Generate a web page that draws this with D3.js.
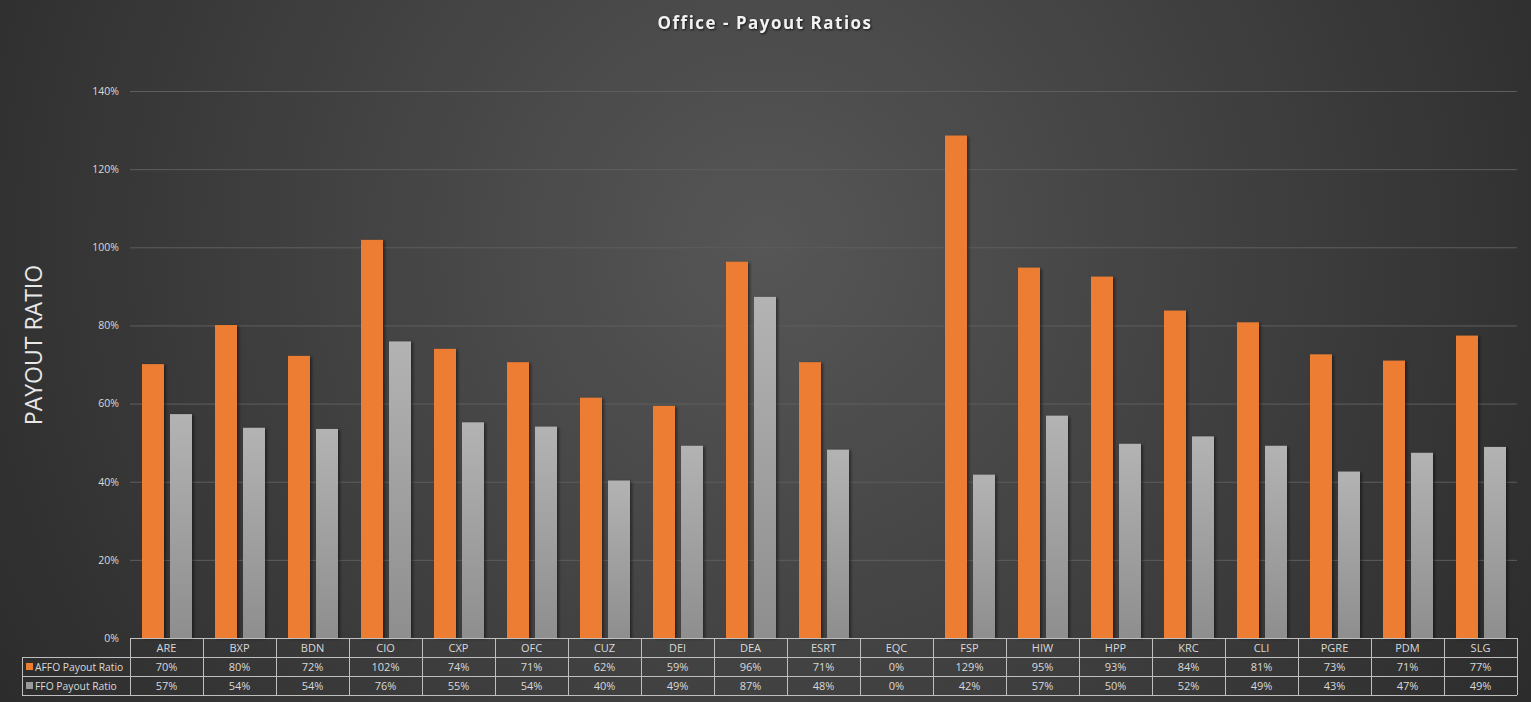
<!DOCTYPE html>
<html>
<head>
<meta charset="utf-8">
<script src="https://cdn.jsdelivr.net/npm/d3@7"></script>
<style>
  html, body { margin: 0; padding: 0; background: #2b2b2b; }
  #chart { width: 1531px; height: 702px; }
  text { font-family: "Open Sans", "DejaVu Sans", sans-serif; }
</style>
</head>
<body>
<div id="chart"></div>
<script>
const tickers = ["ARE", "BXP", "BDN", "CIO", "CXP", "OFC", "CUZ", "DEI", "DEA", "ESRT",
                 "EQC", "FSP", "HIW", "HPP", "KRC", "CLI", "PGRE", "PDM", "SLG"]
const affo = [70.1, 80.1, 72.2, 101.9, 74.0, 70.6, 61.5, 59.4, 96.3, 70.6,
              0, 128.6, 94.8, 92.5, 83.8, 80.8, 72.6, 71.0, 77.4]
const ffo = [57.3, 53.8, 53.5, 75.9, 55.2, 54.1, 40.3, 49.2, 87.3, 48.2,
             0, 41.8, 56.9, 49.7, 51.6, 49.2, 42.6, 47.4, 48.9]
const affoLabels = ["70%", "80%", "72%", "102%", "74%", "71%", "62%", "59%", "96%", "71%",
                    "0%", "129%", "95%", "93%", "84%", "81%", "73%", "71%", "77%"]
const ffoLabels = ["57%", "54%", "54%", "76%", "55%", "54%", "40%", "49%", "87%", "48%",
                   "0%", "42%", "57%", "50%", "52%", "49%", "43%", "47%", "49%"]
const yTicks = [0, 20, 40, 60, 80, 100, 120, 140]
const seriesNames = ["AFFO Payout Ratio", "FFO Payout Ratio"]

const width = 1531, height = 702
const plotLeft = 130, plotRight = 1517
const plotTop = 91, plotBottom = 638
const rowH = 19
const legendLeft = 22
const textCol = "#d9d9d9"
const lineCol = "#bfbfbf"

const svg = d3.select("#chart").append("svg")
  .attr("width", width).attr("height", height)

const defs = svg.append("defs")
const bg = defs.append("radialGradient").attr("id", "bg")
  .attr("cx", "0.5").attr("cy", "0.35").attr("r", "0.62")
  .attr("gradientTransform", "translate(0.5,0.35) scale(1,2.2) translate(-0.5,-0.35)")
bg.append("stop").attr("offset", "0%").attr("stop-color", "#565656")
bg.append("stop").attr("offset", "100%").attr("stop-color", "#292929")

const grey = defs.append("linearGradient").attr("id", "greyBar")
  .attr("x1", 0).attr("y1", 0).attr("x2", 0).attr("y2", 1)
grey.append("stop").attr("offset", "0%").attr("stop-color", "#b3b3b3")
grey.append("stop").attr("offset", "100%").attr("stop-color", "#8e8e8e")

const shadow = defs.append("filter").attr("id", "shadow")
  .attr("x", "-20%").attr("y", "-5%").attr("width", "160%").attr("height", "110%")
shadow.append("feDropShadow").attr("dx", 2).attr("dy", 1).attr("stdDeviation", 1.5)
  .attr("flood-color", "#000").attr("flood-opacity", 0.45)

svg.append("rect").attr("width", width).attr("height", height).attr("fill", "url(#bg)")

// title
svg.append("text")
  .attr("x", 765).attr("y", 29)
  .attr("text-anchor", "middle")
  .attr("fill", "#f2f2f2")
  .style("font-size", "17px").style("font-weight", "bold")
  .style("letter-spacing", "1.5px")
  .style("filter", "drop-shadow(1px 1px 1px rgba(0,0,0,0.7))")
  .text("Office  -  Payout  Ratios")

const x = d3.scaleBand().domain(tickers).range([plotLeft, plotRight])
const y = d3.scaleLinear().domain([0, 140]).range([plotBottom, plotTop])

// grid
svg.append("g").selectAll("line")
  .data(yTicks.filter(t => t > 0))
  .enter().append("line")
  .attr("x1", plotLeft).attr("x2", plotRight)
  .attr("y1", d => y(d) + 0.5).attr("y2", d => y(d) + 0.5)
  .attr("stroke", "#5e5e5e").attr("stroke-width", 1)

// y axis labels
const yAxis = d3.axisLeft(y).tickValues(yTicks).tickFormat(d => d + "%").tickSize(0).tickPadding(11)
const ya = svg.append("g").attr("transform", `translate(${plotLeft},0)`).call(yAxis)
ya.select(".domain").remove()
ya.selectAll("text").attr("fill", textCol)
  .style("font-size", "10.5px").style("font-family", "'Open Sans', sans-serif")

svg.append("text")
  .attr("transform", "translate(42,345) rotate(-90)")
  .attr("text-anchor", "middle")
  .attr("fill", "#e8e8e8")
  .style("font-size", "23px")
  .text("PAYOUT RATIO")

// bars
const bw = x.bandwidth()
const barW = 22
const gBars = svg.append("g")
gBars.selectAll(".affo")
  .data(affo)
  .enter().append("rect")
  .attr("class", "affo")
  .attr("x", (d, i) => x(tickers[i]) + 12)
  .attr("y", d => y(d))
  .attr("width", barW)
  .attr("height", d => y(0) - y(d))
  .attr("fill", "#ed7d31")
  .attr("filter", "url(#shadow)")
gBars.selectAll(".ffo")
  .data(ffo)
  .enter().append("rect")
  .attr("class", "ffo")
  .attr("x", (d, i) => x(tickers[i]) + 12 + barW + 6)
  .attr("y", d => y(d))
  .attr("width", barW)
  .attr("height", d => y(0) - y(d))
  .attr("fill", "url(#greyBar)")
  .attr("filter", "url(#shadow)")

// data table
const tbl = svg.append("g")
const t0 = plotBottom
const tLines = tbl.append("g").attr("stroke", lineCol).attr("stroke-width", 1).attr("fill", "none")
// horizontal lines
tLines.append("line").attr("x1", plotLeft).attr("x2", plotRight).attr("y1", t0 + 0.5).attr("y2", t0 + 0.5)
;[1, 2, 3].forEach(r => {
  tLines.append("line").attr("x1", legendLeft).attr("x2", plotRight)
    .attr("y1", t0 + r * rowH + 0.5).attr("y2", t0 + r * rowH + 0.5)
})
// vertical lines
tLines.append("line").attr("x1", legendLeft + 0.5).attr("x2", legendLeft + 0.5)
  .attr("y1", t0 + rowH).attr("y2", t0 + 3 * rowH)
tickers.concat(["end"]).forEach((t, i) => {
  const xx = Math.round(plotLeft + i * bw) + 0.5
  tLines.append("line").attr("x1", xx).attr("x2", xx)
    .attr("y1", t0).attr("y2", t0 + 3 * rowH)
})

const cellText = (row, labels) => {
  tbl.append("g").selectAll("text")
    .data(labels)
    .enter().append("text")
    .attr("x", (d, i) => x(tickers[i]) + bw / 2)
    .attr("y", t0 + row * rowH + 14)
    .attr("text-anchor", "middle")
    .attr("fill", textCol)
    .style("font-size", "11px")
    .text(d => d)
}
cellText(0, tickers)
cellText(1, affoLabels)
cellText(2, ffoLabels)

// legend keys in table
const keyCols = ["#ed7d31", "#9a9a9a"]
seriesNames.forEach((name, i) => {
  const ry = t0 + (i + 1) * rowH
  tbl.append("rect").attr("x", legendLeft + 4).attr("y", ry + 6)
    .attr("width", 7).attr("height", 7).attr("fill", keyCols[i])
  tbl.append("text").attr("x", legendLeft + 13).attr("y", ry + 14)
    .attr("fill", textCol).style("font-size", "10.3px")
    .text(name)
})
</script>
</body>
</html>
